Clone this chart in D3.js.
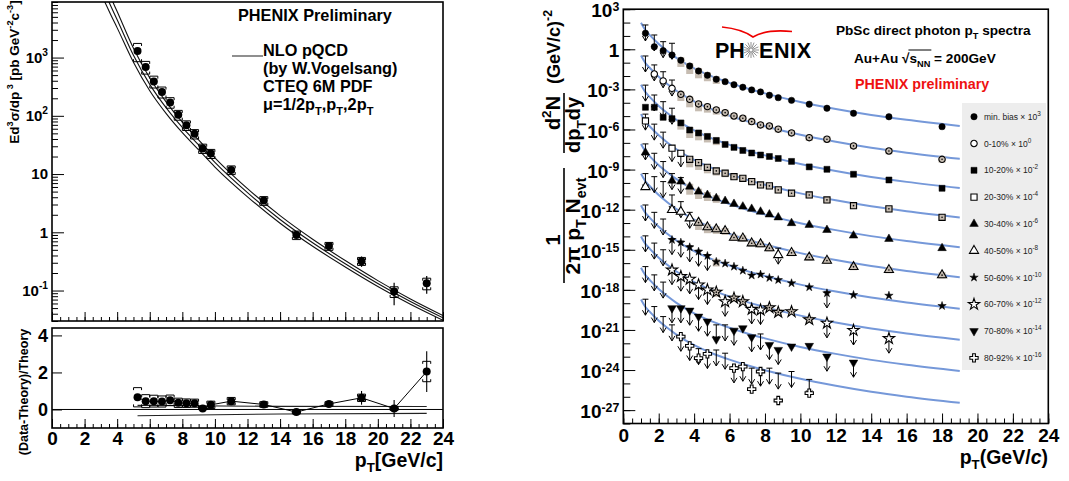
<!DOCTYPE html>
<html><head><meta charset="utf-8">
<script src="https://cdn.jsdelivr.net/npm/d3@7"></script>
<style>body{margin:0;background:#fff}svg{display:block}</style>
</head><body><svg id="c" width="1069" height="481"></svg>
<script>
// ================= LEFT PANEL DATA (p+p) =================
const ptPP = [5.25,5.75,6.25,6.75,7.25,7.75,8.25,8.75,9.25,9.75,11,13,15,17,19,21,23];
const xsecPP = [1300,690,390,257,170,104,69,49,27.6,22.5,11.8,3.5,0.9,0.58,0.32,0.096,0.133];
const xsecStat = [40,25,15,10,7,5,3,2.5,1.5,1.5,1.0,0.35,0.12,0.07,0.065,0.04,0.045];
const xsecSys = [450,170,90,55,35,20,13,9,5,4,2,0.6,0.15,0.09,0.05,0.02,0.03];
const theoryPt = [3.2,3.6,4,5,6,7,8,9,10,12,14,16,18,20,22,24];
const theoryMid = [13800,7762,4467,1096,347,138,63.1,31.6,15.85,4.79,1.66,0.661,0.288,0.132,0.0646,0.0339];
const theoryHigh = [19950,10960,6166,1445,447,174,77.6,38.5,19.05,5.62,1.93,0.759,0.327,0.148,0.0716,0.0372];
const theoryLow = [9550,5495,3236,832,269,110,51.3,26.0,13.2,4.07,1.43,0.575,0.254,0.1175,0.0582,0.0309];
const ratioPP = [0.66,0.45,0.45,0.43,0.50,0.36,0.34,0.34,0.05,0.25,0.45,0.27,-0.14,0.30,0.63,0.05,2.05];
const ratioStat = [0.08,0.06,0.06,0.06,0.06,0.06,0.06,0.06,0.06,0.1,0.18,0.15,0.1,0.15,0.37,0.46,1.1];
const ratioSys = [0.52,0.35,0.32,0.3,0.28,0.25,0.23,0.22,0.05,0.2,0.2,0.15,0.1,0.12,0.2,0.1,0.55];
const bandPt = [5.25,14,23];
const bandHigh = [0.22,0.17,0.16];
const bandLow = [-0.34,-0.24,-0.21];
const yTicksTop = [0.1,1,10,100,1000];
const yTicksRatio = [0,2,4];
const xTicksMajor = [0,2,4,6,8,10,12,14,16,18,20,22,24];

// ================= RIGHT PANEL DATA (Au+Au), values in log10 =================
const ptAA = [1.25,1.75,2.25,2.75,3.25,3.75,4.25,4.75,5.25,5.75,6.25,6.75,7.25,7.75,8.25,8.75,9.5,10.5,11.5,13,15,18];
const centLabels = ["min. bias","0-10%","10-20%","20-30%","30-40%","40-50%","50-60%","60-70%","70-80%","80-92%"];
const centScaleExp = [3,0,-2,-4,-6,-8,-10,-12,-14,-16];
const valMB = [1.20,0.19,-0.10,-0.43,-0.82,-1.25,-1.62,-1.94,-2.24,-2.42,-2.65,-2.84,-3.04,-3.19,-3.44,-3.62,-3.82,-4.11,-4.41,-4.79,-5.05,-5.79];
const ulMB  = [1.82,1.07,0.57,0.45,null,null,null,null,null,null,null,null,null,null,null,null,null,null,null,null,null,null];
const valC0 = [null,-1.85,-2.37,-2.92,-3.37,-3.74,-4.09,-4.29,-4.54,-4.74,-4.99,-5.16,-5.41,-5.66,-5.74,-5.98,-6.26,-6.61,-6.73,-7.23,-7.61,-8.23];
const ulC0  = [-0.50,-1.17,-1.68,-2.30,null,null,null,null,null,null,null,null,null,null,null,null,null,null,null,null,null,null];
const valC1 = [-4.34,-4.34,-5.09,-5.19,-5.51,-6.04,-6.26,-6.52,-6.82,-7.12,-7.34,-7.57,-7.76,-7.91,-8.02,-8.17,-8.39,-8.80,-8.98,-9.35,-9.78,-10.40];
const ulC1  = [-2.68,-3.42,-3.92,-4.41,null,null,null,null,null,null,null,null,null,null,null,null,null,null,null,null,null,null];
const valC2 = [-5.36,null,null,-7.40,-7.78,-8.23,-8.48,-8.83,-9.10,-9.27,-9.53,-9.65,-9.90,-10.15,-10.22,-10.52,-10.77,-10.90,-11.27,-11.70,-11.94,-12.57];
const ulC2  = [-4.85,-5.6,-6.2,-7.2,-7.6,null,null,null,null,null,null,null,null,null,null,null,null,null,null,null,null,null];
const valC3 = [-7.73,null,null,-9.83,-9.90,-10.28,-10.65,-10.90,-11.14,-11.35,-11.57,-11.77,-11.94,-12.15,-12.36,-12.58,-13.01,-13.14,-13.52,-13.94,-14.19,-14.88];
const ulC3  = [-7.08,-7.78,-8.4,-9.3,-9.6,null,null,null,null,null,null,null,null,null,null,null,null,null,null,null,null,null];
const valC4 = [-10.3,null,null,-12.02,-12.15,-12.64,-12.97,-13.31,-13.46,-13.59,-14.09,-14.14,-14.51,-14.58,-14.88,-15.39,-15.23,-15.56,-15.81,-16.28,-16.51,-16.90];
const ulC4  = [-9.3,-9.53,-9.9,-10.9,-11.4,-12.2,null,null,null,null,null,null,null,null,null,-14.88,null,null,null,null,null,null];
const valC5 = [null,null,null,-14.26,-14.46,-14.81,-15.14,-15.46,-15.9,-16.03,-16.26,-16.56,-16.92,-16.85,-17.1,-17.26,-17.50,-17.80,-18.25,-18.38,-18.43,-19.20];
const ulC5  = [-11.65,-12.2,-12.7,-14.16,-14.36,-14.71,-15.04,-15.36,null,null,null,null,null,null,null,null,null,null,-18.15,null,null,null];
const valC6 = [null,null,null,-16.51,-17.0,-17.20,-17.63,-18.0,-18.17,-18.88,-18.62,-18.88,-19.45,-19.50,-19.33,-19.67,-19.63,-20.22,-20.49,-21.03,-21.64,null];
const ulC6  = [-13.96,-14.5,-15.0,-16.41,-16.9,-17.1,-17.53,-17.9,null,-18.78,null,null,-19.35,-19.40,null,null,null,null,-20.39,-20.93,-21.54,null];
const valC7 = [null,null,null,-19.37,-19.37,-19.55,-20.0,-20.37,-21.7,null,-21.05,-20.87,-21.54,null,-22.12,-22.49,-22.24,-22.19,-22.99,-23.44,null,null];
const ulC7  = [-16.26,-16.88,-17.42,-19.27,-19.27,-19.45,-19.9,-20.27,-20.62,-20.62,-20.95,null,-21.44,-21.3,-22.02,-22.39,null,null,-22.89,-23.34,null,null];
const valC8 = [null,null,null,null,-21.50,-22.19,-23.11,-22.79,null,null,-23.86,-23.74,-25.43,-24.11,null,-26.28,null,-25.73,null,null,null,null];
const ulC8  = [-18.70,-19.25,-20.0,-20.62,-21.40,-22.09,-22.4,-22.69,-22.5,-22.74,-23.76,-23.64,-23.86,-24.01,-23.86,-24.23,-24.11,-24.7,null,null,null,null];
const sysDownAA = [0.2,0.2,0.2,0.2,0.5,0.6,0.55,0.45,0.35,0.3,0.25,0.25,0.25,0.25,0.25,0.25,0.25,0.25,0.25,0.25,0.25,0.25];
const fitPt = [1,1.25,1.5,2,2.5,3,4,5,6,7,8,10,12,14,16,19];
const fitMB = [1.99,1.43,1.06,0.40,-0.15,-0.64,-1.43,-2.03,-2.51,-2.93,-3.30,-3.94,-4.46,-4.91,-5.28,-5.74];
const fitC0 = [-0.47,-1.03,-1.40,-2.06,-2.61,-3.10,-3.89,-4.49,-4.97,-5.39,-5.76,-6.40,-6.92,-7.37,-7.74,-8.20];
const fitC1 = [-2.65,-3.21,-3.58,-4.24,-4.79,-5.28,-6.07,-6.67,-7.15,-7.57,-7.94,-8.58,-9.10,-9.55,-9.92,-10.38];
const fitC2 = [-4.85,-5.41,-5.78,-6.44,-6.99,-7.48,-8.27,-8.87,-9.35,-9.77,-10.14,-10.78,-11.30,-11.75,-12.12,-12.58];
const fitC3 = [-7.08,-7.64,-8.01,-8.67,-9.22,-9.71,-10.50,-11.10,-11.58,-12.00,-12.37,-13.01,-13.53,-13.98,-14.35,-14.81];
const fitC4 = [-9.32,-9.88,-10.25,-10.91,-11.46,-11.95,-12.74,-13.34,-13.82,-14.24,-14.61,-15.25,-15.77,-16.22,-16.59,-17.05];
const fitC5 = [-11.68,-12.24,-12.61,-13.27,-13.82,-14.31,-15.10,-15.70,-16.18,-16.60,-16.97,-17.61,-18.13,-18.58,-18.95,-19.41];
const fitC6 = [-14.00,-14.56,-14.93,-15.59,-16.14,-16.63,-17.42,-18.02,-18.50,-18.92,-19.29,-19.93,-20.45,-20.90,-21.27,-21.73];
const fitC7 = [-16.34,-16.90,-17.27,-17.93,-18.48,-18.97,-19.76,-20.36,-20.84,-21.26,-21.63,-22.27,-22.79,-23.24,-23.61,-24.07];
const fitC8 = [-18.72,-19.28,-19.65,-20.31,-20.86,-21.35,-22.14,-22.74,-23.22,-23.64,-24.01,-24.65,-25.17,-25.62,-25.99,-26.45];
const yTicksAAExp = [3,0,-3,-6,-9,-12,-15,-18,-21,-24,-27];

// ================= RENDER =================
const FONT = "'Liberation Sans', Arial, Helvetica, sans-serif";
const svg = d3.select("#c").attr("font-family", FONT);

function rich(parent, x, y, parts, opt) {
  const size = opt.size;
  const t = parent.append("text").attr("x", x).attr("y", y).attr("font-size", size)
    .attr("font-weight", opt.weight || "bold").attr("fill", opt.fill || "#000")
    .attr("text-anchor", opt.anchor || "start");
  if (opt.ls) t.attr("letter-spacing", opt.ls);
  let shift = 0;
  parts.forEach(p => {
    const o = typeof p === "string" ? {t: p} : p;
    const target = o.sub ? size * 0.3 : o.sup ? -size * 0.45 : 0;
    const ts = t.append("tspan").attr("dy", target - shift).text(o.t);
    if (o.sub || o.sup) ts.attr("font-size", size * (o.scale || 0.68));
    if (o.it) ts.attr("font-style", "italic");
    shift = target;
  });
  return t;
}
function expLabels(g, size, tenPlain, supOff, supScale) {
  g.selectAll(".tick text").each(function(d) {
    const e = Math.round(Math.log10(d));
    const t = d3.select(this); t.text(null);
    if (e === 0) t.text("1");
    else if (e === 1 && tenPlain) t.text("10");
    else {
      t.append("tspan").text("10");
      t.append("tspan").attr("dy", -size * supOff).attr("font-size", size * supScale).text(e);
    }
  });
}
function styleAxis(g, size) {
  g.attr("font-family", FONT).attr("font-size", size).attr("font-weight", "bold");
  g.select(".domain").remove();
  g.selectAll(".tick line").attr("stroke", "#000").attr("stroke-width", 1);
  g.selectAll(".tick text").attr("fill", "#000");
}
const half = d3.range(0, 24.01, 0.5);

// ---------- Left top panel ----------
const xL = d3.scaleLinear().domain([0, 24]).range([52, 443]);
const yL = d3.scaleLog().domain([0.03, 9000]).range([321, 2]);
const yRat = d3.scaleLinear().domain([-1, 4.4]).range([428, 328]);

svg.append("defs").append("clipPath").attr("id", "clipL").append("rect")
  .attr("x", 52).attr("y", 2).attr("width", 391).attr("height", 319);

const minorL = [];
for (let e = -2; e <= 3; e++) for (let k = 2; k <= 9; k++) { const v = k * Math.pow(10, e); if (v >= 0.03 && v <= 9000) minorL.push(v); }
let g = svg.append("g").attr("transform", "translate(52,0)").call(d3.axisLeft(yL).tickValues(minorL).tickSize(-6).tickFormat(""));
styleAxis(g, 15);
g = svg.append("g").attr("transform", "translate(52,0)").call(d3.axisLeft(yL).tickValues(yTicksTop).tickSize(-12).tickPadding(4));
styleAxis(g, 15); expLabels(g, 15, true, 0.45, 0.68);
g = svg.append("g").attr("transform", "translate(0,321)").call(d3.axisBottom(xL).tickValues(half).tickSize(-4).tickFormat(""));
styleAxis(g, 10);
g = svg.append("g").attr("transform", "translate(0,321)").call(d3.axisBottom(xL).tickValues(xTicksMajor).tickSize(-9).tickFormat(""));
styleAxis(g, 10);

// theory curves
const thLine = d3.line().x(d => xL(d[0])).y(d => yL(d[1])).curve(d3.curveMonotoneX);
[theoryHigh, theoryMid, theoryLow].forEach(arr => {
  svg.append("path").attr("clip-path", "url(#clipL)")
    .datum(theoryPt.map((p, i) => [p, arr[i]])).attr("d", thLine)
    .attr("fill", "none").attr("stroke", "#111").attr("stroke-width", 1.1);
});
// data
const gpp = svg.append("g");
ptPP.forEach((p, i) => {
  const x = xL(p), v = xsecPP[i];
  gpp.append("line").attr("x1", x).attr("x2", x).attr("y1", yL(v + xsecStat[i])).attr("y2", yL(Math.max(v - xsecStat[i], 0.031)))
    .attr("stroke", "#000").attr("stroke-width", 1.2);
  [v + xsecSys[i], v - xsecSys[i]].forEach((b, j) => {
    if (b <= 0.03) return;
    const yb = yL(b), d = j === 0 ? 2.5 : -2.5;
    gpp.append("path").attr("d", `M${x - 4},${yb + d}V${yb}H${x + 4}V${yb + d}`).attr("fill", "none").attr("stroke", "#000").attr("stroke-width", 1);
  });
  gpp.append("circle").attr("cx", x).attr("cy", yL(v)).attr("r", 4).attr("fill", "#000");
});

// legend text top-left panel
rich(svg, 238, 20.5, ["PHENIX Preliminary"], {size: 16.3});
svg.append("line").attr("x1", 232).attr("x2", 263).attr("y1", 56).attr("y2", 56).attr("stroke", "#444").attr("stroke-width", 1.2);
rich(svg, 263, 56, ["NLO pQCD"], {size: 16.3});
rich(svg, 263, 74, ["(by W.Vogelsang)"], {size: 16.3});
rich(svg, 263, 92, ["CTEQ 6M PDF"], {size: 16.3});
rich(svg, 263, 110, ["\u03bc=1/2p", {t: "T", sub: true}, ",p", {t: "T", sub: true}, ",2p", {t: "T", sub: true}], {size: 16.3});

// left y titles
const rotL = svg.append("g").attr("transform", "rotate(-90)");
rich(rotL, -72, 19, ["Ed", {t: "3", sup: true}, "\u03c3/dp", {t: " 3", sup: true}, " [pb GeV", {t: "-2", sup: true}, "c", {t: "-3", sup: true}, "]"], {size: 13.5, anchor: "middle"});
rich(rotL, -392, 28, ["(Data-Theory)/Theory"], {size: 12.5, anchor: "middle"});

// ---------- Left ratio panel ----------
g = svg.append("g").attr("transform", "translate(52,0)").call(d3.axisLeft(yRat).tickValues(yTicksRatio).tickSize(-10).tickPadding(4).tickFormat(d3.format("d")));
styleAxis(g, 18);
g = svg.append("g").attr("transform", "translate(0,428)").call(d3.axisBottom(xL).tickValues(half).tickSize(-4).tickFormat(""));
styleAxis(g, 10);
g = svg.append("g").attr("transform", "translate(0,428)").call(d3.axisBottom(xL).tickValues(xTicksMajor).tickSize(-9).tickPadding(3).tickFormat(d3.format("d")));
styleAxis(g, 19);

svg.append("line").attr("x1", xL(0)).attr("x2", xL(24)).attr("y1", yRat(0)).attr("y2", yRat(0)).attr("stroke", "#000").attr("stroke-width", 1);
const bandLine = d3.line().x(d => xL(d[0])).y(d => yRat(d[1])).curve(d3.curveMonotoneX);
[bandHigh, bandLow].forEach(arr => svg.append("path").datum(bandPt.map((p, i) => [p, arr[i]])).attr("d", bandLine)
  .attr("fill", "none").attr("stroke", "#222").attr("stroke-width", 1.1));
svg.append("path").datum(ptPP.map((p, i) => [p, ratioPP[i]]))
  .attr("d", d3.line().x(d => xL(d[0])).y(d => yRat(d[1])))
  .attr("fill", "none").attr("stroke", "#000").attr("stroke-width", 1);
ptPP.forEach((p, i) => {
  const x = xL(p), v = ratioPP[i];
  svg.append("line").attr("x1", x).attr("x2", x).attr("y1", yRat(v + ratioStat[i])).attr("y2", yRat(v - ratioStat[i])).attr("stroke", "#000").attr("stroke-width", 1.1);
  [v + ratioSys[i], v - ratioSys[i]].forEach((b, j) => {
    const yb = yRat(b), d = j === 0 ? 2.5 : -2.5;
    svg.append("path").attr("d", `M${x - 4},${yb + d}V${yb}H${x + 4}V${yb + d}`).attr("fill", "none").attr("stroke", "#000").attr("stroke-width", 1);
  });
  svg.append("circle").attr("cx", x).attr("cy", yRat(v)).attr("r", 4).attr("fill", "#000");
});
rich(svg, 443, 466.5, ["p", {t: "T", sub: true}, "[GeV/c]"], {size: 19.5, anchor: "end"});

// frames left
svg.append("rect").attr("x", 52).attr("y", 2).attr("width", 391).attr("height", 319).attr("fill", "none").attr("stroke", "#000").attr("stroke-width", 1.6);
svg.append("rect").attr("x", 52).attr("y", 328).attr("width", 391).attr("height", 100).attr("fill", "none").attr("stroke", "#000").attr("stroke-width", 1.6);

// ---------- Right panel ----------
const xR = d3.scaleLinear().domain([0, 24]).range([623.3, 1048.3]);
const yR = d3.scaleLog().domain([1e-28, 1e3]).range([423.5, 9.2]);
const P = e => Math.pow(10, e);

const decades = d3.range(-28, 4).map(P);
g = svg.append("g").attr("transform", "translate(623.3,0)").call(d3.axisLeft(yR).tickValues(decades).tickSize(-7).tickFormat(""));
styleAxis(g, 10);
g = svg.append("g").attr("transform", "translate(623.3,0)").call(d3.axisLeft(yR).tickValues(yTicksAAExp.map(P)).tickSize(-12).tickPadding(4));
styleAxis(g, 19);
g.selectAll(".tick text").attr("dy", "0.4em");
expLabels(g, 19, false, 0.33, 0.65);
g = svg.append("g").attr("transform", "translate(0,423.5)").call(d3.axisBottom(xR).tickValues(half).tickSize(-5).tickFormat(""));
styleAxis(g, 10);
g = svg.append("g").attr("transform", "translate(0,423.5)").call(d3.axisBottom(xR).tickValues(xTicksMajor).tickSize(-10).tickPadding(5).tickFormat(d3.format("d")));
styleAxis(g, 19);

const series = [
  {val: valMB, ul: ulMB, fit: fitMB, sym: d3.symbolCircle, size: 32, open: false},
  {val: valC0, ul: ulC0, fit: fitC0, sym: d3.symbolCircle, size: 32, open: true},
  {val: valC1, ul: ulC1, fit: fitC1, sym: d3.symbolSquare, size: 36, open: false},
  {val: valC2, ul: ulC2, fit: fitC2, sym: d3.symbolSquare, size: 38, open: true},
  {val: valC3, ul: ulC3, fit: fitC3, sym: d3.symbolTriangle, size: 32, open: false},
  {val: valC4, ul: ulC4, fit: fitC4, sym: d3.symbolTriangle, size: 36, open: true},
  {val: valC5, ul: ulC5, fit: fitC5, sym: d3.symbolStar, size: 22, open: false},
  {val: valC6, ul: ulC6, fit: fitC6, sym: d3.symbolStar, size: 40, open: true},
  {val: valC7, ul: ulC7, fit: fitC7, sym: d3.symbolTriangle, size: 32, open: false, down: true},
  {val: valC8, ul: ulC8, fit: fitC8, sym: d3.symbolCross, size: 38, open: true}
];
const fitLine = d3.line().x(d => xR(d[0])).y(d => yR(P(d[1]))).curve(d3.curveMonotoneX);
const gFit = svg.append("g"), gBox = svg.append("g"), gArr = svg.append("g"), gMk = svg.append("g");
series.forEach(s => {
  gFit.append("path").datum(fitPt.map((p, i) => [p, s.fit[i]])).attr("d", fitLine)
    .attr("fill", "none").attr("stroke", "#7598d9").attr("stroke-width", 2);
  ptAA.forEach((p, i) => {
    const v = s.val[i], u = s.ul[i], x = xR(p);
    if (u != null) {
      const y0 = yR(P(u)), L = 16;
      gArr.append("path").attr("d", `M${x - 3},${y0}H${x + 3}M${x},${y0}V${y0 + L}M${x - 3},${y0 + L - 5}L${x},${y0 + L}L${x + 3},${y0 + L - 5}`)
        .attr("fill", "none").attr("stroke", "#000").attr("stroke-width", 1);
    }
    if (v != null && u == null && (s.open || sysDownAA[i] > 0.3)) {
      const yt = yR(P(v + 0.22)), yb = yR(P(v - sysDownAA[i]));
      gBox.append("rect").attr("x", x - 3.5).attr("width", 7).attr("y", yt).attr("height", yb - yt).attr("fill", "#c6bcb1");
    }
    if (v != null) {
      const y = yR(P(v));
      gMk.append("path").attr("d", d3.symbol(s.sym, s.size)())
        .attr("transform", `translate(${x},${y})` + (s.down ? " rotate(180)" : ""))
        .attr("fill", s.open ? (u == null ? "none" : "#fff") : "#000")
        .attr("stroke", "#000").attr("stroke-width", s.open ? 1.1 : 0.5);
      if (s.open && u == null) gMk.append("circle").attr("cx", x).attr("cy", y).attr("r", 0.8).attr("fill", "#000");
    }
  });
});

// Legend
const gLeg = svg.append("g");
gLeg.append("rect").attr("x", 962).attr("y", 103).attr("width", 84).attr("height", 267).attr("fill", "#ededed");
series.forEach((s, i) => {
  const y = 116.7 + i * 26.8;
  gLeg.append("path").attr("d", d3.symbol(s.sym, s.size)()).attr("transform", `translate(974,${y})` + (s.down ? " rotate(180)" : ""))
    .attr("fill", s.open ? "#fff" : "#000").attr("stroke", "#000").attr("stroke-width", s.open ? 1.1 : 0.5);
  rich(gLeg, 984, y + 3, [centLabels[i] + " \u00d7 10", {t: String(centScaleExp[i]), sup: true, scale: 0.75}], {size: 8.5, weight: "normal", fill: "#222"});
});

// texts right
rich(svg, 836, 35, ["PbSc direct photon p", {t: "T", sub: true}, " spectra"], {size: 13.6});
const auT = rich(svg, 854, 62.7, ["Au+Au ", "\u221a", "s", {t: "NN", sub: true}, " = 200GeV"], {size: 13.6});
{
  const n = auT.node();
  const x0 = 854 + n.getSubStringLength(0, 7), x1 = 854 + n.getSubStringLength(0, 10);
  svg.append("line").attr("x1", x0 - 1).attr("x2", x1 + 1).attr("y1", 50).attr("y2", 50).attr("stroke", "#000").attr("stroke-width", 1);
}
rich(svg, 855, 89.3, ["PHENIX preliminary"], {size: 14.3, fill: "#ee1111"});

// PHENIX logo
rich(svg, 715, 57.5, ["PH"], {size: 21.5});
rich(svg, 759, 57.5, ["ENIX"], {size: 21.5, ls: 0.6});
const star = svg.append("g").attr("transform", "translate(751,50)");
d3.range(16).forEach(k => {
  const a = k * Math.PI / 8;
  star.append("line").attr("x1", 1.5 * Math.cos(a)).attr("y1", 1.5 * Math.sin(a)).attr("x2", 8 * Math.cos(a)).attr("y2", 8 * Math.sin(a))
    .attr("stroke", "#777").attr("stroke-width", 0.8);
});
svg.append("path").attr("d", "M722,27 Q742,29 753,37 Q766,29 792,31.5").attr("fill", "none").attr("stroke", "#e00").attr("stroke-width", 1.6);

// Right y title
const rotR = svg.append("g").attr("transform", "rotate(-90)");
rich(rotR, -47, 560, ["(GeV/", "c", ")", {t: "-2", sup: true}], {size: 18, anchor: "middle"});
rich(rotR, -113, 560, ["d", {t: "2", sup: true}, "N"], {size: 20, anchor: "middle"});
rich(rotR, -125, 580, ["dp", {t: "T", sub: true}, "dy"], {size: 20, anchor: "middle"});
rich(rotR, -240, 560, ["1"], {size: 20, anchor: "middle"});
rich(rotR, -226, 580, ["2\u03c0 p", {t: "T", sub: true}, " N", {t: "evt", sub: true}], {size: 21, anchor: "middle"});
svg.append("line").attr("x1", 564).attr("x2", 564).attr("y1", 93).attr("y2", 153).attr("stroke", "#000").attr("stroke-width", 1.6);
svg.append("line").attr("x1", 564).attr("x2", 564).attr("y1", 168).attr("y2", 283).attr("stroke", "#000").attr("stroke-width", 1.6);

rich(svg, 1048, 463.5, ["p", {t: "T", sub: true}, "(GeV/", {t: "c", it: true}, ")"], {size: 19.5, anchor: "end"});

svg.append("rect").attr("x", 623.3).attr("y", 9.2).attr("width", 425).attr("height", 414.3).attr("fill", "none").attr("stroke", "#000").attr("stroke-width", 1.6);
</script></body></html>
